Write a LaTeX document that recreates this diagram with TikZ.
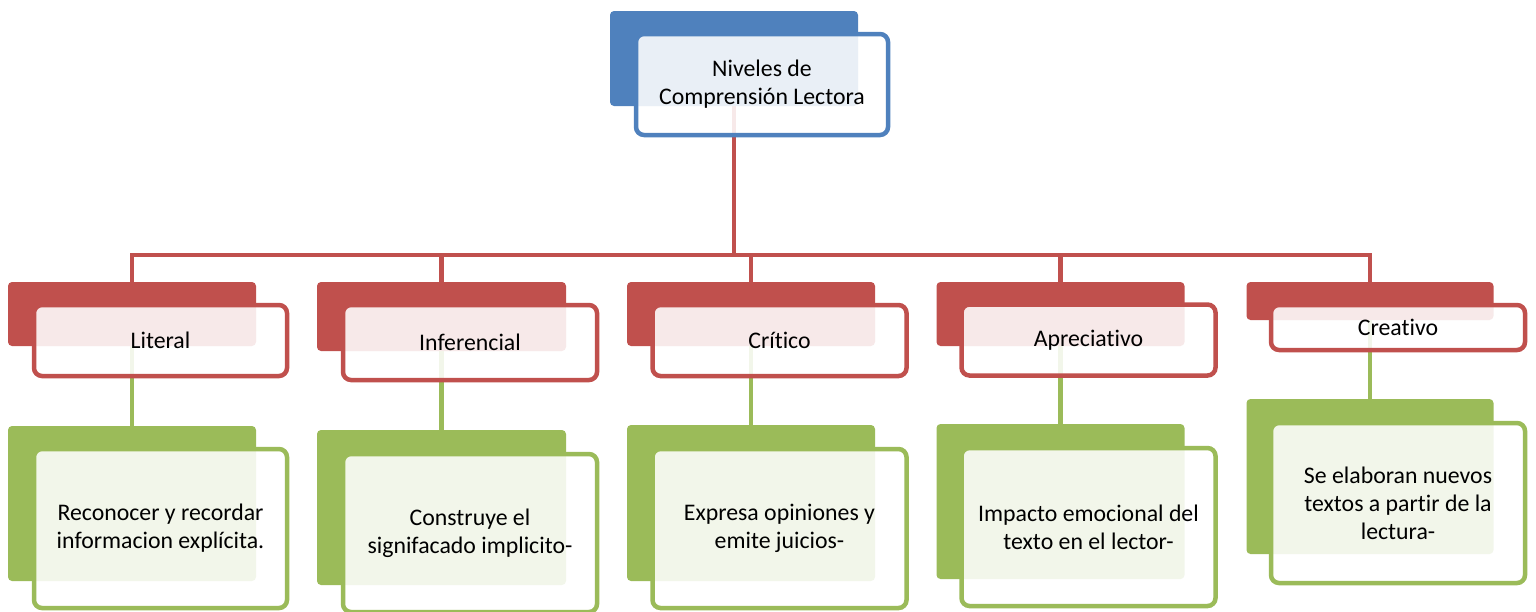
\documentclass[tikz,border=0pt]{standalone}
\usepackage{fontspec}
\setmainfont{Carlito}[Ligatures=NoCommon]
\usetikzlibrary{backgrounds}
\definecolor{cblue}{HTML}{4F81BD}
\definecolor{cred}{HTML}{C0504D}
\definecolor{cgreen}{HTML}{9BBB59}
\begin{document}
\begin{tikzpicture}[x=1pt,y=-1pt,
  backbox/.style={rectangle, rounded corners=4pt, fill=#1, draw=none, inner sep=0pt},
  frontbox/.style={rectangle, rounded corners=8pt, draw=#1, line width=4.5pt, fill=white,
    fill opacity=0.88, text opacity=1, align=center, inner sep=0pt,
    font=\fontsize{23.8}{28}\selectfont},
  redline/.style={draw=cred, line width=4.5pt},
  greenline/.style={draw=cgreen, line width=4.5pt}]
\useasboundingbox (0,0) rectangle (1536,611);
\coordinate (bus) at (735,255);
% ---- back boxes
\node[backbox=cblue, minimum width=248pt, minimum height=95pt] (topb) at (734,58.5) {};
\node[backbox=cred, minimum width=248pt, minimum height=64pt] (r0b) at (132,314) {};
\node[backbox=cred, minimum width=249pt, minimum height=69pt] (r1b) at (441.5,316.5) {};
\node[backbox=cred, minimum width=248pt, minimum height=64pt] (r2b) at (751,314) {};
\node[backbox=cred, minimum width=248pt, minimum height=64pt] (r3b) at (1060.5,314) {};
\node[backbox=cred, minimum width=247pt, minimum height=38pt] (r4b) at (1370,301) {};
\node[backbox=cgreen, minimum width=248pt, minimum height=155pt] (g0b) at (132,503.5) {};
\node[backbox=cgreen, minimum width=249pt, minimum height=155pt] (g1b) at (441.5,507.5) {};
\node[backbox=cgreen, minimum width=248pt, minimum height=156pt] (g2b) at (751,503) {};
\node[backbox=cgreen, minimum width=248pt, minimum height=155pt] (g3b) at (1060.5,501.5) {};
\node[backbox=cgreen, minimum width=247pt, minimum height=155pt] (g4b) at (1370,476.5) {};
% ---- connectors, behind the boxes
\begin{scope}[on background layer]
\draw[redline] (topb.center) -- (topb.center |- bus);
\draw[redline] (topb.center |- bus) -| (r0b.north);
\draw[redline] (topb.center |- bus) -| (r1b.north);
\draw[redline] (topb.center |- bus) -| (r2b.north);
\draw[redline] (topb.center |- bus) -| (r3b.north);
\draw[redline] (topb.center |- bus) -| (r4b.north);
\draw[greenline] (r0b.center) -- (g0b.north);
\draw[greenline] (r1b.center) -- (g1b.north);
\draw[greenline] (r2b.center) -- (g2b.north);
\draw[greenline] (r3b.center) -- (g3b.north);
\draw[greenline] (r4b.center) -- (g4b.north);
\end{scope}
% ---- front boxes
\node[frontbox=cblue, minimum width=252pt, minimum height=101pt] (top) at (762,84.5)
  {Niveles de\\Comprensión Lectora};
\node[frontbox=cred, minimum width=253pt, minimum height=71pt] (r0) at (160.5,340.5) {Literal};
\node[frontbox=cred, minimum width=254pt, minimum height=75pt] (r1) at (470,342.5) {Inferencial};
\node[frontbox=cred, minimum width=254pt, minimum height=71pt] (r2) at (779.5,340.5) {Crítico};
\node[frontbox=cred, minimum width=254pt, minimum height=71pt] (r3) at (1088.5,340) {Apreciativo};
\node[frontbox=cred, minimum width=254pt, minimum height=45pt] (r4) at (1398,327.5) {Creativo};
\node[frontbox=cgreen, minimum width=253pt, minimum height=159pt] (g0) at (160.5,528.5)
  {Reconocer y recordar\\informacion explícita.};
\node[frontbox=cgreen, minimum width=254pt, minimum height=158pt] (g1) at (470,533)
  {Construye el\\signifacado implicito-};
\node[frontbox=cgreen, minimum width=254pt, minimum height=159pt] (g2) at (779.5,528.5)
  {Expresa opiniones y\\emite juicios-};
\node[frontbox=cgreen, minimum width=254pt, minimum height=158pt] (g3) at (1088.5,527)
  {Impacto emocional del\\texto en el lector-};
\node[frontbox=cgreen, minimum width=254pt, minimum height=160pt] (g4) at (1398,503)
  {Se elaboran nuevos\\textos a partir de la\\lectura-};
\end{tikzpicture}
\end{document}
